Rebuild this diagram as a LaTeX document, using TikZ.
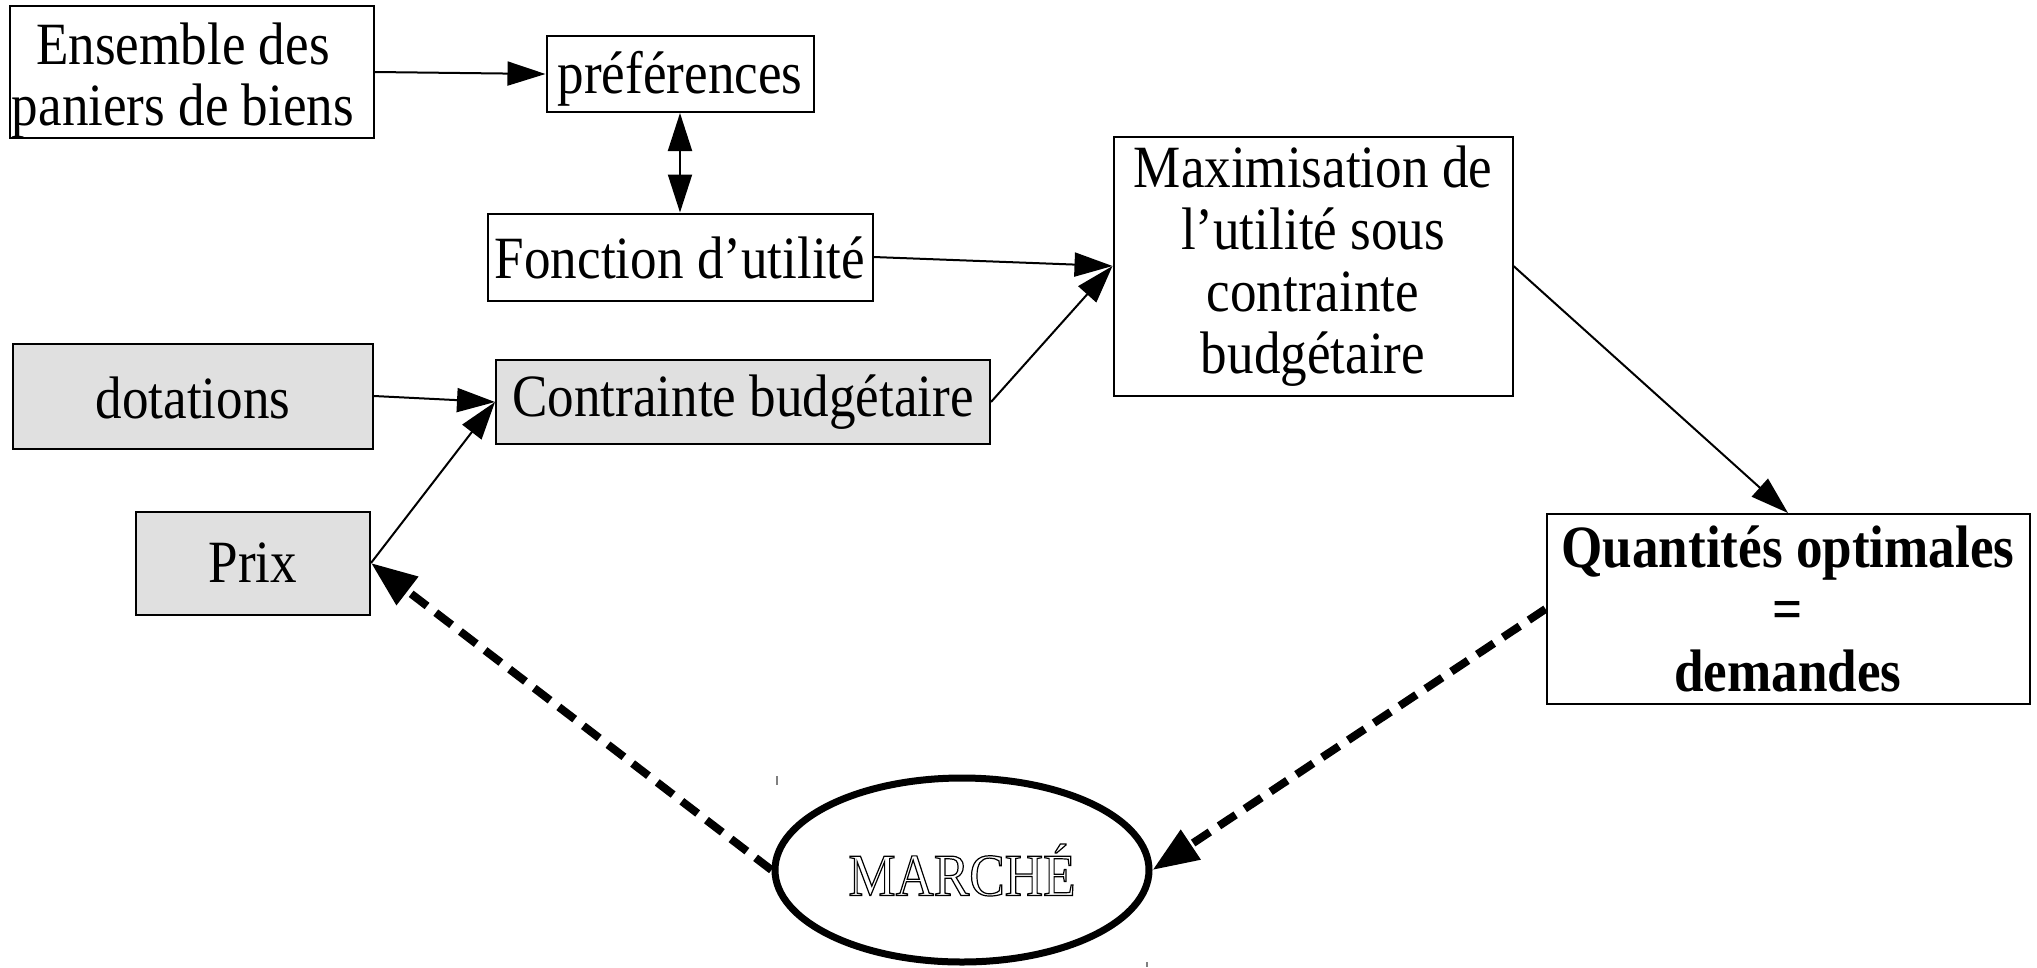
\documentclass[tikz,border=0pt]{standalone}
\usepackage{fontspec}
\setmainfont{Liberation Serif}[FakeStretch=0.885]
\usetikzlibrary{arrows.meta,shapes.geometric}
\definecolor{boxgray}{RGB}{224,224,224}
\newcommand{\outlinetext}[1]{\special{pdf:literal 1 Tr 1.2 w}#1\special{pdf:literal 0 Tr}}
\newcommand{\lowered}[2]{\raisebox{-#1}[\height][\depth]{#2}}
\begin{document}
\begin{tikzpicture}[x=1pt,y=-1pt,
  every node/.style={font=\fontsize{60}{61}\selectfont},
  box/.style={draw,line width=2pt,fill=white,align=center,inner sep=0pt},
  gbox/.style={box,fill=boxgray},
  arr/.style={line width=2pt,-{Triangle[length=38pt,width=24pt]}},
  darr/.style={line width=8pt,dash pattern=on 20pt off 11pt,-{Triangle[length=46pt,width=34pt]}}]
\useasboundingbox (0,0) rectangle (2037,967);
\node[box,minimum width=364pt,minimum height=132pt] (ens) at (192,72) {};
\node[align=center,inner sep=0pt] (enstext) at (183,81) {Ensemble des\\paniers de biens};
\node[box,minimum width=267pt,minimum height=76pt] (pref) at (680,74) {\lowered{5pt}{préférences}};
\node[box,minimum width=385pt,minimum height=87pt] (fonc) at (680,257) {\lowered{1pt}{Fonction d’utilité}};
\node[box,minimum width=399pt,minimum height=259pt,font=\fontsize{60}{62}\selectfont] (max) at (1313,266) {Maximisation de\\l’utilité sous\\contrainte\\budgétaire};
\node[gbox,minimum width=360pt,minimum height=105pt] (dot) at (193,396) {\lowered{2pt}{dotations}};
\node[gbox,minimum width=494pt,minimum height=84pt] (con) at (743,402) {Contrainte budgétaire};
\node[gbox,minimum width=234pt,minimum height=103pt] (prix) at (253,563) {Prix};
\node[box,minimum width=483pt,minimum height=190pt,font=\fontsize{60}{62}\selectfont\bfseries] (qua) at (1788,609) {Quantités optimales\\=\\demandes};
\node[draw,ellipse,line width=7pt,minimum width=374pt,minimum height=184pt,inner sep=0pt] (mar) at (962,870) {\outlinetext{MARCHÉ}};
\draw[arr] (ens.east) -- (pref.west);
\draw[line width=2pt,{Triangle[length=38pt,width=24pt]}-{Triangle[length=38pt,width=24pt]}] (pref.south) -- (fonc.north);
\draw[arr] (fonc.east) -- (max.west);
\draw[arr] (con.east) -- (max.west);
\draw[arr] (dot.east) -- (con.west);
\draw[arr] (prix.east) -- (con.west);
\draw[arr] (max.east) -- (qua.north);
\draw[darr] (qua.west) -- (mar.east);
\draw[darr] (mar.west) -- (prix.east);
\coordinate (tk1) at (777,776);
\coordinate (tk2) at (1147,962);
\draw[gray,line width=1.5pt] (tk1) -- ++(0,9);
\draw[gray,line width=1.5pt] (tk2) -- ++(0,5);
\end{tikzpicture}
\end{document}
